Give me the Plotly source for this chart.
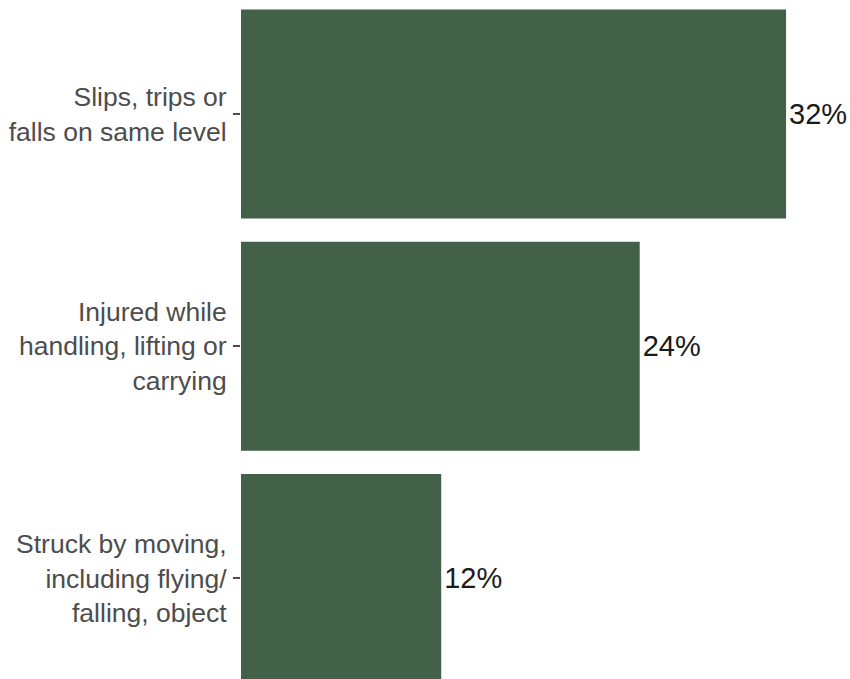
import plotly.graph_objects as go

categories = [
    "Slips, trips or<br>falls on same level",
    "Injured while<br>handling, lifting or<br>carrying",
    "Struck by moving,<br>including flying/<br>falling, object",
]
values = [32.4, 23.7, 11.9]
value_labels = ["32%", "24%", "12%"]

BAR_COLOR = "#436048"
FONT = "Liberation Sans, Arial, sans-serif"

fig = go.Figure(
    go.Bar(
        x=values,
        y=categories,
        orientation="h",
        marker=dict(color=BAR_COLOR, line=dict(width=0)),
        width=0.9,
        text=value_labels,
        textposition="outside",
        textfont=dict(family=FONT, size=29, color="#1a1a1a"),
        cliponaxis=False,
        constraintext="none",
        hoverinfo="skip",
    )
)

fig.update_layout(
    width=850,
    height=679,
    margin=dict(l=241, r=0, t=0, b=0),
    paper_bgcolor="white",
    plot_bgcolor="white",
    showlegend=False,
    font=dict(family=FONT),
    xaxis=dict(
        range=[0, 36.2],
        showgrid=False,
        zeroline=False,
        showticklabels=False,
        ticks="",
        showline=False,
    ),
    yaxis=dict(
        categoryorder="array",
        categoryarray=categories,
        range=[2.433, -0.491],
        showgrid=False,
        zeroline=False,
        showline=False,
        ticks="outside",
        ticklen=7,
        tickwidth=2,
        tickcolor="#4d4d4d",
        tickfont=dict(family=FONT, size=26.5, color="#4d4d4d"),
        ticklabelstandoff=1,
    ),
)

fig.write_html(
    "out.html",
    config={"displayModeBar": False},
    post_script="document.body.style.margin='0';"
    "document.documentElement.style.overflow='hidden';"
    "document.body.style.overflow='hidden';",
)
